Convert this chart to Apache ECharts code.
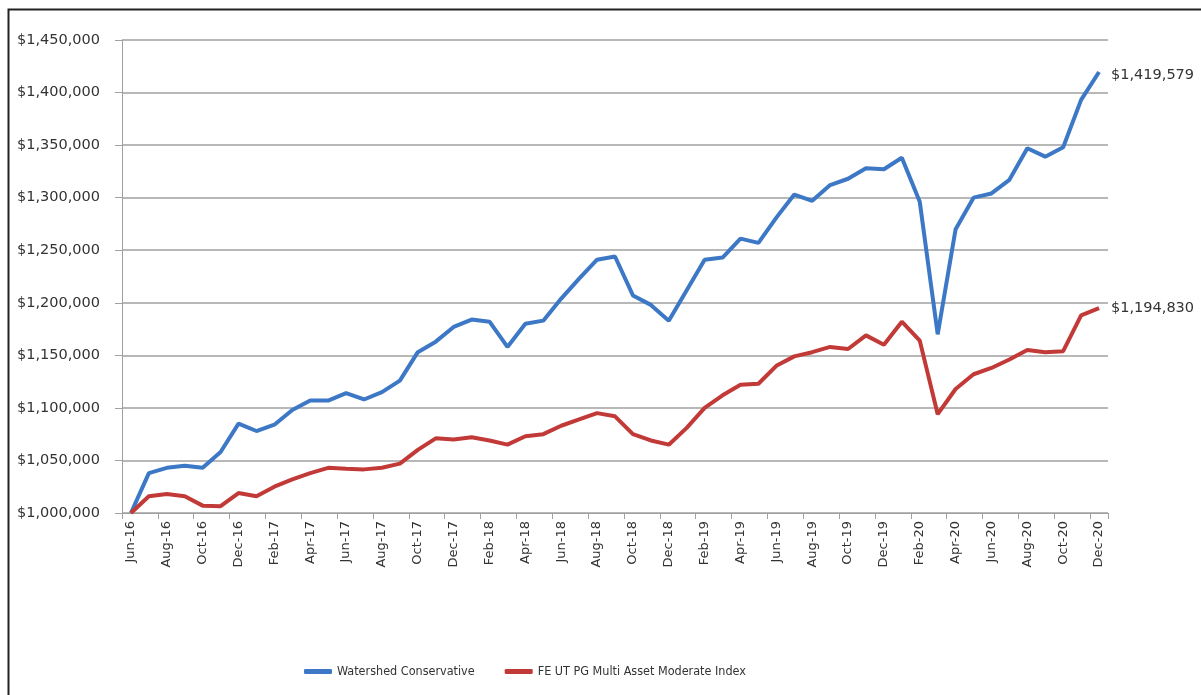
<!DOCTYPE html>
<html>
<head>
<meta charset="utf-8">
<style>
html,body{margin:0;padding:0;background:#fff;}
#c{width:1201px;height:695px;}
</style>
<script src="https://cdn.jsdelivr.net/npm/echarts@6/dist/echarts.min.js"></script>
</head>
<body>
<div id="c"></div>
<script>
var months = ["Jun-16","Jul-16","Aug-16","Sep-16","Oct-16","Nov-16","Dec-16","Jan-17","Feb-17","Mar-17","Apr-17","May-17",
"Jun-17","Jul-17","Aug-17","Sep-17","Oct-17","Nov-17","Dec-17","Jan-18","Feb-18","Mar-18","Apr-18","May-18",
"Jun-18","Jul-18","Aug-18","Sep-18","Oct-18","Nov-18","Dec-18","Jan-19","Feb-19","Mar-19","Apr-19","May-19",
"Jun-19","Jul-19","Aug-19","Sep-19","Oct-19","Nov-19","Dec-19","Jan-20","Feb-20","Mar-20","Apr-20","May-20",
"Jun-20","Jul-20","Aug-20","Sep-20","Oct-20","Nov-20","Dec-20"];

var watershed = [1000000,1038000,1043000,1045000,1043000,1058000,1085000,1078000,1084000,1098000,1107000,1107000,
1114000,1108000,1115000,1126000,1153000,1163000,1177000,1184000,1182000,1158000,1180000,1183000,
1204000,1223000,1241000,1244000,1207000,1198000,1183000,1212000,1241000,1243000,1261000,1257000,
1281000,1303000,1297000,1312000,1318000,1328000,1327000,1338000,1296000,1170000,1270000,1300000,
1304000,1317000,1347000,1339000,1348000,1393000,1419579];

var feIndex = [1000000,1016000,1018000,1016000,1007000,1006500,1019000,1016000,1025000,1032000,1038000,1043000,
1042000,1041500,1043000,1047000,1060000,1071000,1070000,1072000,1069000,1065000,1073000,1075000,
1083000,1089000,1095000,1092000,1075000,1069000,1065000,1081000,1100000,1112000,1122000,1123000,
1140000,1149000,1153000,1158000,1156000,1169000,1160000,1182000,1164000,1094000,1118000,1132000,
1138000,1146000,1155000,1153000,1154000,1188000,1194830];

var seriesNames = ["Watershed Conservative","FE UT PG Multi Asset Moderate Index"];
var yMin = 1000000, yMax = 1450000, yStep = 50000;

var FONT = "'DejaVu Sans',sans-serif";
var FONT_NARROW = "'DejaVu Sans Condensed','DejaVu Sans',sans-serif";
function money(v){ return '$' + Math.round(v).toLocaleString('en-US'); }

var chart = echarts.init(document.getElementById('c'), null, {renderer:'canvas'});
chart.setOption({
  animation:false,
  backgroundColor:'#fff',
  textStyle:{fontFamily:FONT},
  graphic:[{
    type:'rect', left:6, top:7, silent:true,
    shape:{x:0,y:0,width:1210,height:700},
    style:{fill:'none', stroke:'#222', lineWidth:2}
  }],
  grid:{left:122, right:93, top:40, bottom:182, containLabel:false},
  legend:{
    data:seriesNames, left:299, top:660,
    icon:'roundRect', itemWidth:28, itemHeight:5, itemGap:30,
    textStyle:{fontFamily:FONT_NARROW, fontSize:12.5, color:'#333'}
  },
  xAxis:{
    type:'category', data:months, boundaryGap:true,
    axisLine:{lineStyle:{color:'#a0a0a0', width:1}},
    axisTick:{show:true, interval:1, length:6, lineStyle:{color:'#a0a0a0'}},
    axisLabel:{interval:1, rotate:90, margin:8, fontFamily:FONT, fontSize:13, color:'#333'},
    splitLine:{show:false}
  },
  yAxis:{
    type:'value', min:yMin, max:yMax, interval:yStep,
    axisLine:{show:true, lineStyle:{color:'#a0a0a0', width:1}},
    axisTick:{show:true, length:7, lineStyle:{color:'#a0a0a0'}},
    axisLabel:{margin:22, fontFamily:FONT, fontSize:14.5, color:'#333', formatter:money},
    splitLine:{show:true, lineStyle:{color:'#a0a0a0', width:1.5}}
  },
  series:[
    {name:seriesNames[0], type:'line', data:watershed, symbol:'none',
     itemStyle:{color:'#3C78C6'}, lineStyle:{color:'#3C78C6', width:4},
     endLabel:{show:true, distance:12, offset:[0,3], formatter:function(p){return money(p.value);},
       fontFamily:FONT, fontSize:14.5, color:'#333'}},
    {name:seriesNames[1], type:'line', data:feIndex, symbol:'none',
     itemStyle:{color:'#C23A38'}, lineStyle:{color:'#C23A38', width:4},
     endLabel:{show:true, distance:12, formatter:function(p){return money(p.value);},
       fontFamily:FONT, fontSize:14.5, color:'#333'}}
  ]
});
</script>
</body>
</html>
